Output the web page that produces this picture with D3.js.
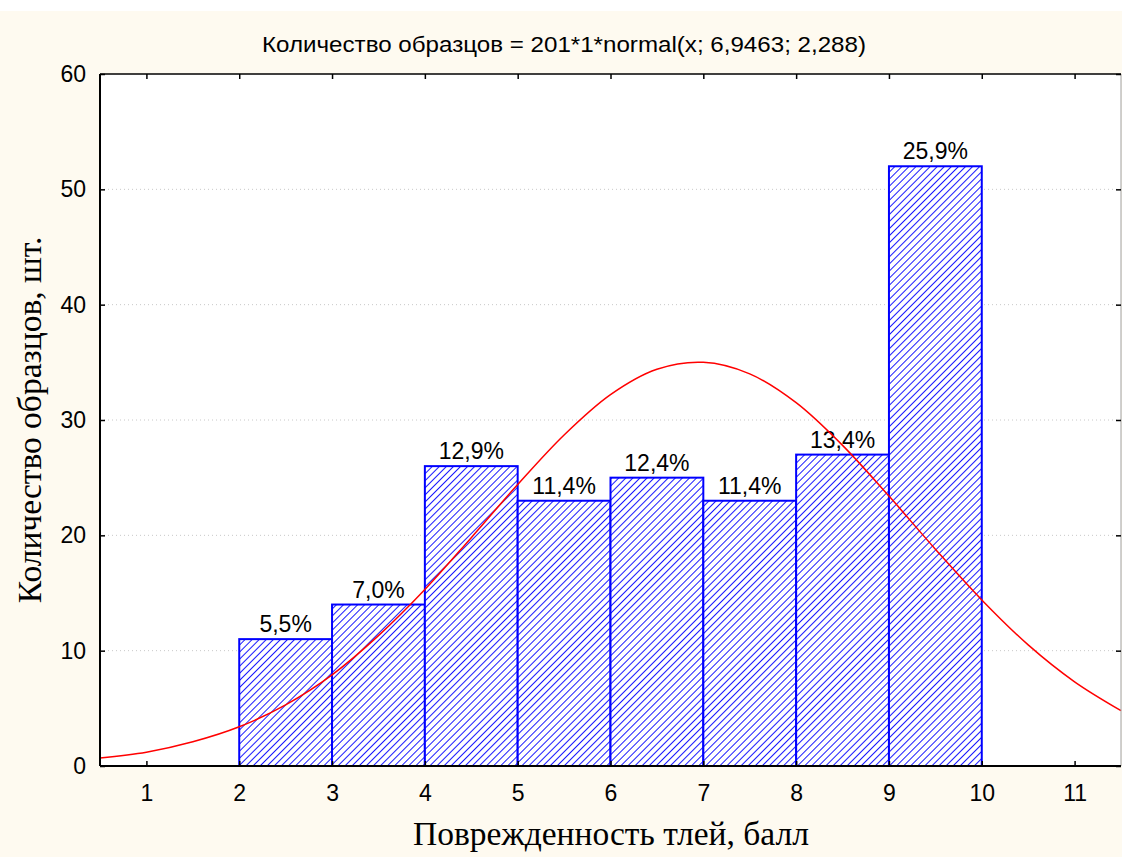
<!DOCTYPE html>
<html>
<head>
<meta charset="utf-8">
<script src="https://cdn.jsdelivr.net/npm/d3@7"></script>
<style>
  body { margin: 0; background: #fff; }
  svg { display: block; }
</style>
</head>
<body>
<svg id="chart" width="1122" height="857"></svg>
<script>
// histogram bins (score intervals) and counts
const binStarts = [2, 3, 4, 5, 6, 7, 8, 9];
const counts = [11, 14, 26, 23, 25, 23, 27, 52];
const percentLabels = ["5,5%", "7,0%", "12,9%", "11,4%", "12,4%", "11,4%", "13,4%", "25,9%"];

// fitted normal curve
const curveX = [0.5, 1, 1.5, 2, 2.5, 3, 3.5, 4, 4.5, 5, 5.5, 6, 6.5, 7, 7.5, 8, 8.5, 9, 9.5, 10, 10.5, 11, 11.5];
const curveY = [0.7, 1.2, 2.1, 3.4, 5.3, 7.9, 11.3, 15.3, 19.8, 24.4, 28.7, 32.2, 34.4, 35.0, 34.0, 31.5, 27.8, 23.4, 18.8, 14.4, 10.5, 7.3, 4.8];

const xTicks = [1, 2, 3, 4, 5, 6, 7, 8, 9, 10, 11];
const yTicks = [0, 10, 20, 30, 40, 50, 60];

const svg = d3.select("#chart");
const mLeft = 100, mRight = 1121, mTop = 74, mBottom = 766;
const font = "Liberation Sans, Arial, sans-serif";
const serif = "Liberation Serif, Times New Roman, serif";

// cream page background
svg.append("rect")
  .attr("x", 0).attr("y", 11)
  .attr("width", 1122).attr("height", 846)
  .attr("fill", "#fefaf0");

svg.append("rect")
  .attr("x", mLeft).attr("y", mTop)
  .attr("width", mRight - mLeft).attr("height", mBottom - mTop)
  .attr("fill", "#fff");

const x = d3.scaleLinear().domain([0.5, 11.5]).range([mLeft, mRight]);
const y = d3.scaleLinear().domain([0, 60]).range([mBottom, mTop]);

const defs = svg.append("defs");
const pat = defs.append("pattern")
  .attr("id", "hatch")
  .attr("patternUnits", "userSpaceOnUse")
  .attr("width", 5).attr("height", 5)
  .attr("patternTransform", "rotate(45)");
pat.append("rect").attr("width", 5).attr("height", 5).attr("fill", "#fff");
pat.append("line")
  .attr("x1", 0).attr("y1", 0).attr("x2", 0).attr("y2", 5)
  .attr("stroke", "#0000ff").attr("stroke-width", 1.8);

// grid
svg.append("g")
  .selectAll("line")
  .data(yTicks.slice(1, -1))
  .enter()
  .append("line")
  .attr("x1", mLeft).attr("x2", mRight)
  .attr("y1", d => y(d)).attr("y2", d => y(d))
  .attr("stroke", "#c8c8c8")
  .attr("stroke-dasharray", "1,3");

// bars
const bars = svg.append("g");
bars.selectAll("rect")
  .data(counts)
  .enter()
  .append("rect")
  .attr("x", (d, i) => x(binStarts[i]))
  .attr("y", d => y(d))
  .attr("width", (d, i) => x(binStarts[i] + 1) - x(binStarts[i]))
  .attr("height", d => mBottom - y(d))
  .attr("fill", "url(#hatch)")
  .attr("stroke", "#0000ff")
  .attr("stroke-width", 2);

bars.selectAll("text")
  .data(counts)
  .enter()
  .append("text")
  .attr("x", (d, i) => x(binStarts[i] + 0.5))
  .attr("y", d => y(d) - 7)
  .attr("text-anchor", "middle")
  .attr("font-family", font)
  .attr("font-size", 23)
  .attr("fill", "#000")
  .text((d, i) => percentLabels[i]);

// normal curve
const line = d3.line()
  .x(d => x(d[0]))
  .y(d => y(d[1]))
  .curve(d3.curveCatmullRom);
svg.append("path")
  .datum(curveX.map((v, i) => [v, curveY[i]]))
  .attr("d", line)
  .attr("fill", "none")
  .attr("stroke", "#ff0000")
  .attr("stroke-width", 1.5);

// frame
svg.append("line").attr("x1", mRight).attr("x2", mRight).attr("y1", mTop).attr("y2", mBottom)
  .attr("stroke", "#a0a0a0").attr("stroke-width", 1);
svg.append("line").attr("x1", mLeft).attr("x2", mRight).attr("y1", mTop).attr("y2", mTop)
  .attr("stroke", "#000").attr("stroke-width", 1.5);

// axes
const xAxis = svg.append("g")
  .attr("transform", `translate(0,${mBottom})`)
  .call(d3.axisBottom(x).tickValues(xTicks).tickSize(-5).tickPadding(19));
xAxis.select(".domain").attr("stroke-width", 2).attr("d", `M${mLeft},0H${mRight}`);
xAxis.selectAll("text").attr("font-family", font).attr("font-size", 23).attr("fill", "#000");
xAxis.selectAll(".tick line").attr("stroke-width", 1.5);

svg.append("g")
  .attr("transform", `translate(0,${mTop})`)
  .call(d3.axisTop(x).tickValues(xTicks).tickSize(-5).tickFormat(""))
  .call(g => g.select(".domain").remove())
  .selectAll(".tick line").attr("stroke-width", 1.5);

const yAxis = svg.append("g")
  .attr("transform", `translate(${mLeft},0)`)
  .call(d3.axisLeft(y).tickValues(yTicks).tickSize(-5).tickPadding(14));
yAxis.select(".domain").attr("stroke-width", 2).attr("d", `M0,${mBottom}V${mTop}`);
yAxis.selectAll("text").attr("font-family", font).attr("font-size", 23).attr("fill", "#000");
yAxis.selectAll(".tick line").attr("stroke-width", 1.5);

svg.append("g")
  .attr("transform", `translate(${mRight},0)`)
  .call(d3.axisRight(y).tickValues(yTicks).tickSize(-5).tickFormat(""))
  .call(g => g.select(".domain").remove())
  .selectAll(".tick line").attr("stroke-width", 1.5);

// titles
svg.append("text")
  .attr("x", 564).attr("y", 52)
  .attr("text-anchor", "middle")
  .attr("font-family", font)
  .attr("font-size", 22)
  .attr("textLength", 604)
  .attr("lengthAdjust", "spacingAndGlyphs")
  .text("Количество образцов = 201*1*normal(x; 6,9463; 2,288)");

svg.append("text")
  .attr("x", 611).attr("y", 845)
  .attr("text-anchor", "middle")
  .attr("font-family", serif)
  .attr("font-size", 33.5)
  .text("Поврежденность тлей, балл");

svg.append("text")
  .attr("transform", "translate(41,420) rotate(-90)")
  .attr("text-anchor", "middle")
  .attr("font-family", serif)
  .attr("font-size", 33.5)
  .text("Количество образцов, шт.");
</script>
</body>
</html>
